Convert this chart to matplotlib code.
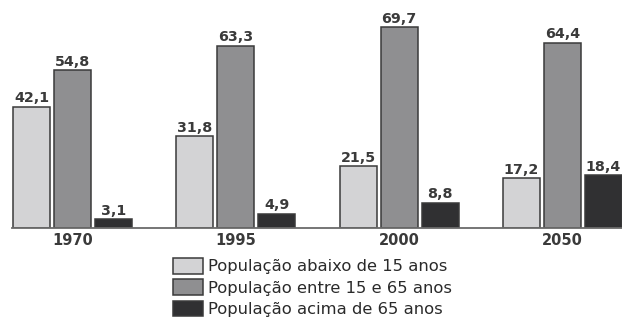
import numpy as np
import matplotlib.pyplot as plt
from matplotlib.patches import Patch

years = ['1970', '1995', '2000', '2050']
abaixo_15 = [42.1, 31.8, 21.5, 17.2]
entre_15_65 = [54.8, 63.3, 69.7, 64.4]
acima_65 = [3.1, 4.9, 8.8, 18.4]

series = [abaixo_15, entre_15_65, acima_65]
labels = ['População abaixo de 15 anos',
          'População entre 15 e 65 anos',
          'População acima de 65 anos']
colors = ['#d3d3d5', '#8f8f91', '#303032']

W, H = 622, 318
fig = plt.figure(figsize=(W / 100, H / 100), dpi=100)
base = 228  # baseline pixel row
ax = fig.add_axes([12 / W, (H - base) / H, (W - 12) / W, base / H])

x = np.arange(len(years))
pitch = 41 / 163.3
width = 37 / 163.3

for k, vals in enumerate(series):
    pos = x + (k - 1) * pitch
    bars = ax.bar(pos, vals, width=width, color=colors[k],
                  edgecolor='#3a3a3a', linewidth=1.1)
    for b, v in zip(bars, vals):
        ax.annotate(f'{v:.1f}'.replace('.', ','),
                    (b.get_x() + b.get_width() / 2, v),
                    xytext=(0, 1), textcoords='offset points',
                    ha='center', va='bottom', fontsize=10.3,
                    fontweight='bold', color='#3a3a3a')

ax.set_xlim(-(72.5 - 12) / 163.3, 3 + 59.5 / 163.3)
ax.set_ylim(0, base / 2.88)
ax.set_xticks(x)
ax.set_xticklabels(years, fontsize=10.5, fontweight='bold', color='#3a3a3a')
ax.set_yticks([])
ax.tick_params(axis='x', length=0, pad=3.5)
for s in ['top', 'left', 'right']:
    ax.spines[s].set_visible(False)
ax.spines['bottom'].set_color('#6a6a6a')
ax.spines['bottom'].set_linewidth(1.3)

handles = [Patch(facecolor=c, edgecolor='#3a3a3a', linewidth=1.1) for c in colors]
fig.legend(handles, labels, loc='upper left',
           bbox_to_anchor=(173 / W, 1 - 258 / H), frameon=False,
           fontsize=11.8, handlelength=1.85, handleheight=1.1,
           handletextpad=0.3, labelspacing=0.3, borderpad=0,
           borderaxespad=0, labelcolor='#2a2a2a')

fig.savefig('out.png', dpi=100)
